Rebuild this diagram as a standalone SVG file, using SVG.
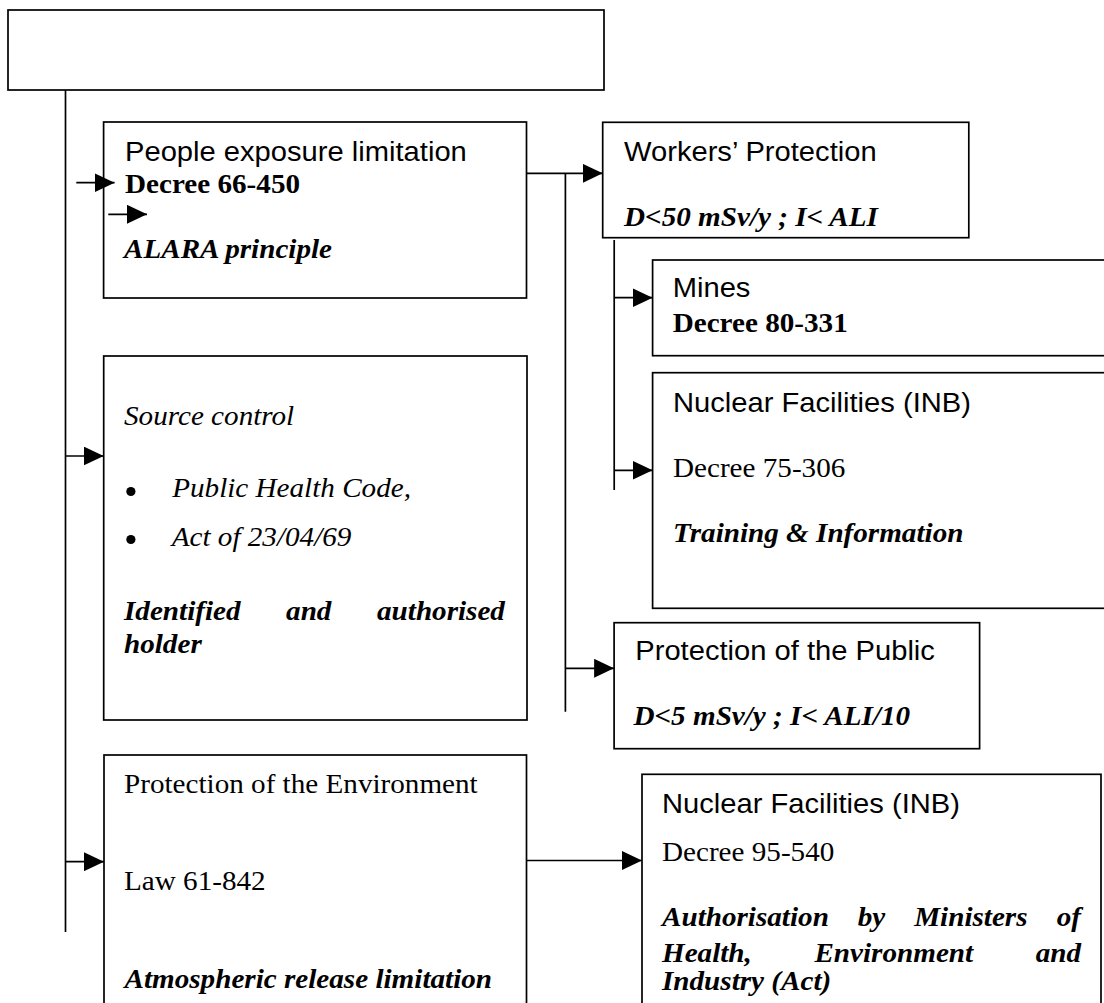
<svg xmlns="http://www.w3.org/2000/svg" width="1104" height="1003" viewBox="0 0 1104 1003">
<defs>
<style>
rect.box{fill:#fff;stroke:#000;stroke-width:1.7}
.c line{stroke:#000;stroke-width:1.7;fill:none}
.arr{marker-end:url(#ah)}
text{fill:#000}
.sans{font-family:"Liberation Sans",Arial,sans-serif;font-size:27.5px}
.serif{font-family:"Liberation Serif","Times New Roman",serif;font-size:27.5px}
.b{font-weight:bold}
.i{font-style:italic}
.dot{fill:#000}
</style>
<marker id="ah" markerUnits="userSpaceOnUse" markerWidth="20" markerHeight="19" refX="20" refY="9.5" orient="auto"><path d="M0,0 L20,9.5 L0,19 Z" fill="#000"/></marker>
</defs>
<rect width="1104" height="1003" fill="#fff"/>
<g id="nodes">
<g id="n-top"><rect class="box" x="8" y="10" width="596" height="80"/></g>
<g id="n-people"><rect class="box" x="103.6" y="122" width="422.9" height="176"/>
<g transform="translate(125 0) scale(1.06 1)">
<text class="sans" x="0" y="160.7">People exposure limitation</text>
<text class="serif b" x="0" y="193.3">Decree 66-450</text>
<text class="serif b i" x="-1" y="258.3">ALARA principle</text>
</g></g>
<g id="n-workers"><rect class="box" x="602.7" y="122.3" width="366.1" height="115.4"/>
<g transform="translate(624 0) scale(1.06 1)">
<text class="sans" x="0" y="160.7">Workers’ Protection</text>
<text class="serif b i" x="0" y="225.7">D&lt;50 mSv/y ; I&lt; ALI</text>
</g></g>
<g id="n-mines"><rect class="box" x="652.6" y="260" width="460" height="95.7"/>
<g transform="translate(672.7 0) scale(1.06 1)">
<text class="sans" x="0" y="297.3">Mines</text>
<text class="serif b" x="0" y="331.7">Decree 80-331</text>
</g></g>
<g id="n-inb1"><rect class="box" x="652.6" y="372.7" width="460" height="235.6"/>
<g transform="translate(673 0) scale(1.06 1)">
<text class="sans" x="0" y="412.3">Nuclear Facilities (INB)</text>
<text class="serif" x="0" y="477">Decree 75-306</text>
<text class="serif b i" x="0" y="541.7">Training &amp; Information</text>
</g></g>
<g id="n-public"><rect class="box" x="614.1" y="622.7" width="365.5" height="126"/>
<g transform="translate(634.5 0) scale(1.06 1)">
<text class="sans" x="0.7" y="660">Protection of the Public</text>
<text class="serif b i" x="-1" y="725">D&lt;5 mSv/y ; I&lt; ALI/10</text>
</g></g>
<g id="n-source"><rect class="box" x="103.7" y="356" width="423.3" height="364"/>
<circle class="dot" cx="130.9" cy="491.5" r="4.6"/>
<circle class="dot" cx="130.9" cy="539.5" r="4.6"/>
<g transform="translate(124 0) scale(1.06 1)">
<text class="serif i" x="0" y="425">Source control</text>
<text class="serif i" x="45.5" y="497.3">Public Health Code,</text>
<text class="serif i" x="45" y="546">Act of 23/04/69</text>
<text class="serif b i" x="0" y="620">Identified</text>
<text class="serif b i" x="152.9" y="620">and</text>
<text class="serif b i" x="359.4" y="620" text-anchor="end">authorised</text>
<text class="serif b i" x="0" y="653.3">holder</text>
</g></g>
<g id="n-env"><rect class="box" x="104" y="755" width="422.5" height="260"/>
<g transform="translate(124 0) scale(1.06 1)">
<text class="serif" x="0" y="792.7">Protection of the Environment</text>
<text class="serif" x="0" y="890">Law 61-842</text>
<text class="serif b i" x="0.5" y="988.3">Atmospheric release limitation</text>
</g></g>
<g id="n-inb2"><rect class="box" x="642" y="774.3" width="459" height="240"/>
<g transform="translate(662 0) scale(1.06 1)">
<text class="sans" x="0" y="813">Nuclear Facilities (INB)</text>
<text class="serif" x="0" y="861">Decree 95-540</text>
<text class="serif b i" x="0" y="925.7">Authorisation</text>
<text class="serif b i" x="184.7" y="925.7">by</text>
<text class="serif b i" x="237.9" y="925.7">Ministers</text>
<text class="serif b i" x="395.3" y="925.7" text-anchor="end">of</text>
<text class="serif b i" x="0" y="961.7">Health,</text>
<text class="serif b i" x="143.8" y="961.7">Environment</text>
<text class="serif b i" x="395.3" y="961.7" text-anchor="end">and</text>
<text class="serif b i" x="0" y="990">Industry (Act)</text>
</g></g>
</g>
<g id="connectors" class="c">
<line x1="65.5" y1="90" x2="65.5" y2="932"/>
<line class="arr" x1="76.3" y1="182.7" x2="114.6" y2="182.7"/>
<line class="arr" x1="108.3" y1="214.3" x2="147" y2="214.3"/>
<line class="arr" x1="65.5" y1="456" x2="103.7" y2="456"/>
<line class="arr" x1="65.5" y1="861.7" x2="104" y2="861.7"/>
<line class="arr" x1="526.5" y1="173.3" x2="602.7" y2="173.3"/>
<line x1="565.4" y1="173.3" x2="565.4" y2="711.7"/>
<line class="arr" x1="565.4" y1="668.3" x2="614.1" y2="668.3"/>
<line x1="614.2" y1="240" x2="614.2" y2="490"/>
<line class="arr" x1="614.2" y1="297.7" x2="652.6" y2="297.7"/>
<line class="arr" x1="614.2" y1="470.3" x2="652.6" y2="470.3"/>
<line class="arr" x1="526.5" y1="860.5" x2="642" y2="860.5"/>
</g>
</svg>
